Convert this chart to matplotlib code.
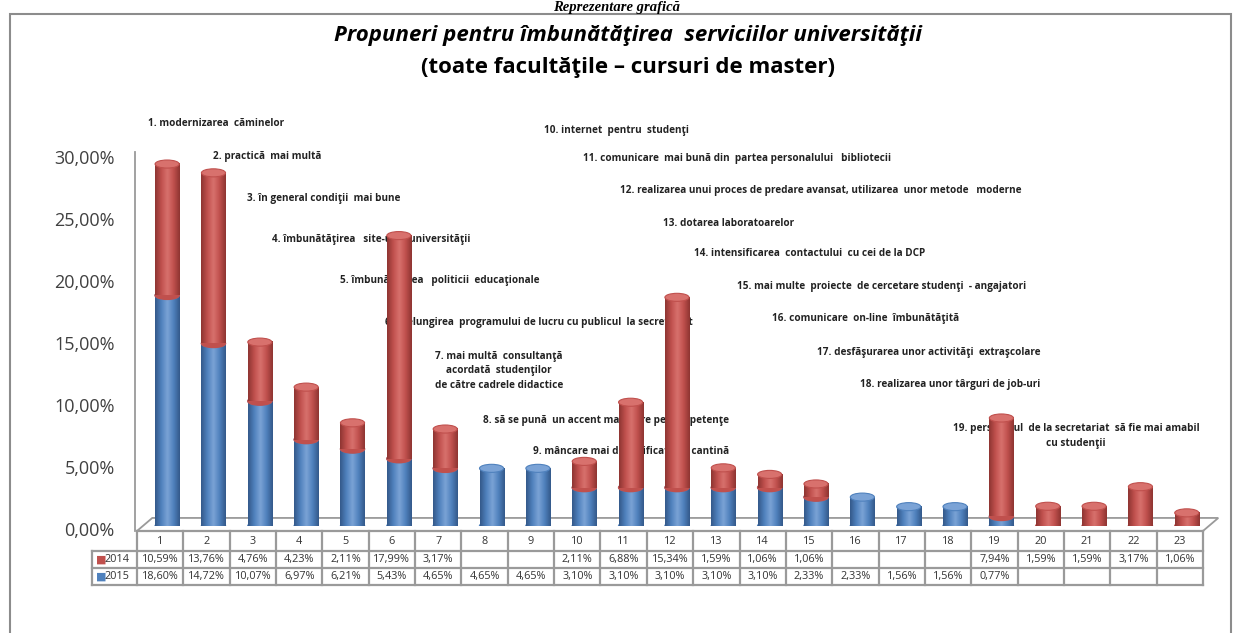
import numpy as np
import matplotlib
matplotlib.use("Agg")
import matplotlib.pyplot as plt
from matplotlib.patches import Ellipse, Polygon, Rectangle
from matplotlib.colors import LinearSegmentedColormap
from matplotlib.transforms import blended_transform_factory, ScaledTranslation

plt.rcParams['font.family'] = ['Open Sans', 'DejaVu Sans']

# proposal number (table columns)
categories = list(range(1, 24))

# share of answers, % (nan = empty cell)
nan = np.nan
v2014 = [10.59, 13.76, 4.76, 4.23, 2.11, 17.99, 3.17, nan, nan, 2.11, 6.88, 15.34,
         1.59, 1.06, 1.06, nan, nan, nan, 7.94, 1.59, 1.59, 3.17, 1.06]
v2015 = [18.60, 14.72, 10.07, 6.97, 6.21, 5.43, 4.65, 4.65, 4.65, 3.10, 3.10, 3.10,
         3.10, 3.10, 2.33, 2.33, 1.56, 1.56, 0.77, nan, nan, nan, nan]

proposals = [
    "1. modernizarea  căminelor",
    "2. practică  mai multă",
    "3. în general condiţii  mai bune",
    "4. îmbunătăţirea   site-ului  universităţii",
    "5. îmbunătăţirea   politicii  educaţionale",
    "6. prelungirea  programului de lucru cu publicul  la secretariat",
    "7. mai multă  consultanţă\nacordată  studenţilor\nde către cadrele didactice",
    "8. să se pună  un accent mai mare pe competenţe",
    "9. mâncare mai diversificată  la cantină",
    "10. internet  pentru  studenţi",
    "11. comunicare  mai bună din  partea personalului   bibliotecii",
    "12. realizarea unui proces de predare avansat, utilizarea  unor metode   moderne",
    "13. dotarea laboratoarelor",
    "14. intensificarea  contactului  cu cei de la DCP",
    "15. mai multe  proiecte  de cercetare studenţi  - angajatori",
    "16. comunicare  on-line  îmbunătăţită",
    "17. desfăşurarea unor activităţi  extraşcolare",
    "18. realizarea unor târguri de job-uri",
    "19. personalul  de la secretariat  să fie mai amabil\ncu studenţii",
]

# layout: left edge / vertical centre of each note, in pixels
note_pos = [(148, 124), (213, 156), (247, 198), (272, 240), (340, 280), (385, 322),
            (437, 371), (483, 421), (533, 452), (544, 130), (583, 159), (620, 191),
            (663, 223), (694, 254), (737, 287), (772, 319), (817, 352), (860, 385),
            (953, 436)]

RED, RED_D, RED_L = '#C0504D', '#8E3532', '#D8716D'
BLUE, BLUE_D, BLUE_L = '#4F81BD', '#34598A', '#7BA3D6'
GRID = '#9A9A9A'

W, H = 1234, 633
fig = plt.figure(figsize=(W / 100, H / 100), dpi=100)
fig.patch.set_facecolor('white')


def fx(px):
    return px / W


def fy(py):
    return 1 - py / H


ax = fig.add_axes([fx(137), fy(526), fx(1203) - fx(137), fy(154) - fy(526)])
ax.patch.set_visible(False)
for s in ax.spines.values():
    s.set_visible(False)

x = np.array(categories) + 0.15
bw = 0.52
eh = 0.65  # ellipse height of cylinder caps (in %)


def shade(base, dark, light):
    return LinearSegmentedColormap.from_list('c', [dark, base, light, base, dark])


cm_red = shade(RED, RED_D, RED_L)
cm_blue = shade(BLUE, BLUE_D, BLUE_L)
grad = np.linspace(0, 1, 64)[None, :]

z = 3.0
for xi, a, b in zip(x, v2015, v2014):
    bot = 0.0
    for val, col, cap, cm in ((a, BLUE, BLUE_L, cm_blue), (b, RED, RED_L, cm_red)):
        if np.isnan(val):
            continue
        top = bot + val
        ax.add_patch(Ellipse((xi, bot), bw, eh, color=col, zorder=z))
        ax.imshow(grad, extent=[xi - bw / 2, xi + bw / 2, bot, top], cmap=cm,
                  aspect='auto', zorder=z + 0.01, interpolation='bicubic')
        ax.add_patch(Ellipse((xi, top), bw, eh, facecolor=cap,
                             edgecolor=col, lw=0.8, zorder=z + 0.02))
        z += 0.03
        bot = top

ax.set_xlim(0.5, 23.5)
ax.set_ylim(0, 30)

# floor and back line
floor = Polygon([(0.5, -0.4), (23.5, -0.4), (23.83, 0.65), (0.83, 0.65)],
                closed=True, facecolor='white', edgecolor=GRID, lw=1.3,
                zorder=2, clip_on=False)
ax.add_patch(floor)
ax.plot([0.46, 0.46], [-0.4, 30.2], color=GRID, lw=1.3, clip_on=False, zorder=2)

ticks = np.arange(0, 31, 5)
ax.set_yticks(ticks)
ax.set_yticklabels([f"{t:.2f}".replace('.', ',') + '%' for t in ticks],
                   fontsize=13, color='#404040')
ax.tick_params(axis='y', length=0, pad=16)
ax.set_xticks([])
off = ScaledTranslation(0, -3 / 100, fig.dpi_scale_trans)
for lab in ax.get_yticklabels():
    lab.set_transform(lab.get_transform() + off)

# data table under the chart
tr = blended_transform_factory(ax.transData, fig.transFigure)
leg_x = 0.5 - 45 / 46.35
row_y = [531, 551, 568, 585]
lk = dict(color=GRID, lw=1.6, transform=tr, clip_on=False, zorder=2)
ax.plot([0.5, 23.5], [fy(row_y[0])] * 2, **lk)
for py in row_y[1:]:
    ax.plot([leg_x, 23.5], [fy(py)] * 2, **lk)
for bx in np.arange(0.5, 24):
    ax.plot([bx, bx], [fy(row_y[0]), fy(row_y[-1])], **lk)
ax.plot([leg_x, leg_x], [fy(row_y[1]), fy(row_y[-1])], **lk)

tk = dict(transform=tr, ha='center', va='center', fontsize=7.8, color='#333333', clip_on=False)
for c in categories:
    ax.text(c, fy(541), str(c), **tk)
for vals, py in ((v2014, 559.5), (v2015, 576.5)):
    for c, v in zip(categories, vals):
        if not np.isnan(v):
            ax.text(c, fy(py), f"{v:.2f}".replace('.', ',') + '%', **tk)
for name, col, py in (("2014", RED, 559.5), ("2015", BLUE, 576.5)):
    ax.text(leg_x + 0.08, fy(py), "■", transform=tr, ha='left', va='center',
            fontsize=8, color=col, family='DejaVu Sans', clip_on=False)
    ax.text(leg_x + 0.27, fy(py), name, transform=tr, ha='left', va='center',
            fontsize=7.8, color='#333333', clip_on=False)

# proposal notes (behind the cylinders)
for txt, (px, py) in zip(proposals, note_pos):
    if txt.startswith("7.") or txt.startswith("19."):
        ha = 'center' if txt.startswith("7.") else 'left'
        ax.text(fx(px + (62 if ha == 'center' else 0)), fy(py), txt, transform=fig.transFigure,
                ha=ha, va='center', multialignment='center', fontsize=7.2,
                fontweight='bold', color='#222222', zorder=1, linespacing=1.4, clip_on=False)
    else:
        ax.text(fx(px), fy(py), txt, transform=fig.transFigure, ha='left', va='center',
                fontsize=7.2, fontweight='bold', color='#222222', zorder=1, clip_on=False)

# titles
fig.text(fx(628), fy(35), "Propuneri pentru îmbunătăţirea  serviciilor universităţii",
         ha='center', va='center', fontsize=16, fontweight='bold', style='italic')
fig.text(fx(628), fy(68), "(toate facultăţile – cursuri de master)",
         ha='center', va='center', fontsize=16, fontweight='bold')
fig.text(0.5, fy(11), "Reprezentare grafică", ha='center', va='baseline',
         fontsize=10.5, fontweight='bold', style='italic', family='Liberation Serif')

# outer frame
fig.add_artist(Rectangle((fx(10), fy(640)), fx(1231) - fx(10), fy(14) - fy(640),
                         transform=fig.transFigure, facecolor='none',
                         edgecolor='#8C8C8C', lw=1.5))

fig.savefig('out.png', dpi=100)
